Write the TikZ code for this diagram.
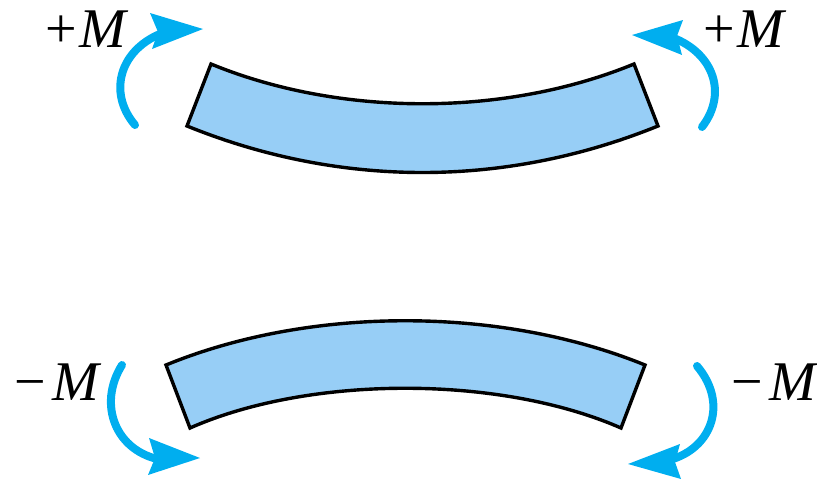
\documentclass[tikz,border=0pt]{standalone}
\usepackage{fontspec}
\setmainfont{Liberation Serif}
\usetikzlibrary{arrows.meta}
\definecolor{beamfill}{HTML}{97CEF6}
\definecolor{arrowblue}{HTML}{00AEEF}
\tikzset{x=1pt,y=-1pt,
 beam/.style={draw=black,fill=beamfill,line width=3.4pt,line join=miter},
 moment/.style={draw=arrowblue,line width=8pt,line cap=round},
 tip/.style={fill=arrowblue,draw=none},
 lab/.style={font=\fontsize{56}{56}\selectfont,inner sep=0pt,anchor=base}}
\begin{document}
\begin{tikzpicture}
\useasboundingbox (0,0) rectangle (817,479);
\path[beam] (211,64) .. controls (340,117) and (505,117) .. (634,64) -- (658,126) .. controls (505,188) and (340,188) .. (187,126) -- cycle;
\path[beam] (166,365) .. controls (310,306) and (500,306) .. (645,365) -- (621,428) .. controls (500,375) and (310,375) .. (190,428) -- cycle;
\coordinate (a1) at (135,125);\coordinate (a2) at (165,32);
\coordinate (b1) at (702,127);\coordinate (b2) at (668,36);
\coordinate (c1) at (122,365);\coordinate (c2) at (162,460);
\coordinate (d1) at (697,366);\coordinate (d2) at (665,461);
\draw[moment] (a1) .. controls (107,92) and (120,48) .. (a2);
\draw[moment] (b1) .. controls (729,92) and (712,50) .. (b2);
\draw[moment] (c1) .. controls (97,405) and (116,452) .. (c2);
\draw[moment] (d1) .. controls (730,405) and (710,452) .. (d2);
\fill[tip] (203,29) -- (150,13) -- (158,32) -- (152,49) -- cycle;
\fill[tip] (632,35) -- (683,20) -- (677,36) -- (682,55) -- cycle;
\fill[tip] (200,458) -- (149,438) -- (155,458) -- (148,475) -- cycle;
\fill[tip] (628,464) -- (680,444) -- (675,462) -- (681,479) -- cycle;
\node[lab] (m1) at (87,47) {+\kern2pt\textit{M}};
\node[lab] (m2) at (745,47) {+\kern2pt\textit{M}};
\node[lab] (m3) at (58,400) {−\kern6pt\textit{M}};
\node[lab] (m4) at (775,400) {−\kern6pt\textit{M}};
\end{tikzpicture}
\end{document}
